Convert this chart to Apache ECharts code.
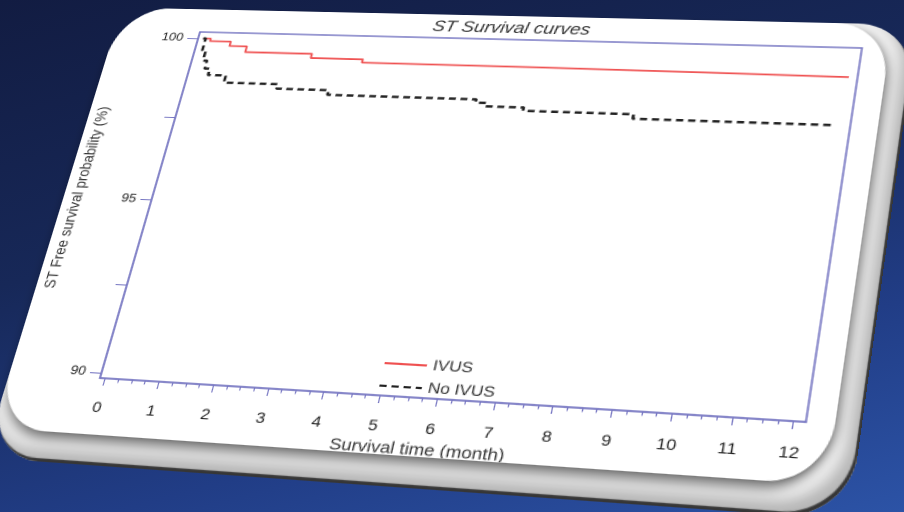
<!DOCTYPE html>
<html>
<head>
<meta charset="utf-8">
<title>ST Survival curves</title>
<script src="https://cdn.jsdelivr.net/npm/echarts@6/dist/echarts.min.js"></script>
<style>
html, body { margin:0; padding:0; width:904px; height:512px; overflow:hidden; }
body {
  background: linear-gradient(165deg, #121c42 0%, #172858 38%, #213d86 72%, #2c53a6 100%);
  font-family: "Liberation Sans", Arial, sans-serif;
}
#stage { position:absolute; left:0; top:0; width:904px; height:512px; transform-origin:0 0; }
.slab {
  position:absolute; left:14px; top:15px; width:697px; height:461px;
  border-radius:48px / 56px; background:#f2f2f2;
  box-shadow: inset -2px -3px 1px #363636, inset -9px -12px 12px rgba(0,0,0,0.25);
}
.face {
  position:absolute; left:14px; top:15px; width:677px; height:433px;
  border-radius:46px / 55px; background:#fff;
  box-shadow: 0 10px 12px -4px rgba(0,0,0,0.55), 7px 0 9px -5px rgba(0,0,0,0.4);
}
#chart { position:absolute; left:14px; top:15px; width:677px; height:433px; }
</style>
</head>
<body>
<div id="stage">
  <div class="slab"></div>
  <div class="face"></div>
  <div id="chart"></div>
</div>
<script>
// Kaplan-Meier steps (month, % free of ST)
var ivusTime   = [0, 0.15, 0.56, 0.9, 2.2, 3.2, 6.5, 9.5, 12.05];
var ivusSurv   = [100, 99.92, 99.78, 99.6, 99.47, 99.37, 99.35, 99.33, 99.33];
var noIvusTime = [0, 0.05, 0.12, 0.2, 0.3, 0.65, 1.7, 2.7, 5.5, 5.7, 6.4, 8.4, 11.9];
var noIvusSurv = [100, 99.6, 99.3, 99.05, 98.85, 98.63, 98.49, 98.35, 98.25, 98.15, 98.05, 97.92, 97.9];

var monthTicks   = [0, 1, 2, 3, 4, 5, 6, 7, 8, 9, 10, 11, 12];
var yTickValues  = [90, 92.5, 95, 97.5, 100];
var yLabelValues = [90, 95, 100];

// weekly minor ticks between the month ticks
var weekTicks = [];
for (var m = 0; m < 12; m++) {
  for (var q = 1; q < 4; q++) weekTicks.push(m + q / 4);
}

// layout: plot box inside #chart, and where its corners land on the slide (photo is tilted)
var chartLeft = 14, chartTop = 15;
var gridLeft = 80, gridTop = 25, gridW = 575, gridH = 355;
var plotQuad = [[200, 32], [862, 48], [806, 422], [100, 378]];

function pairs(t, v) {
  return t.map(function (x, i) { return [x, v[i]]; });
}

var chart = echarts.init(document.getElementById('chart'), null, { devicePixelRatio: 2 });

var axisBlue = '#7676c2';
var xMin = -0.1, xMax = 12.2;

chart.setOption({
  animation: false,
  textStyle: { fontFamily: 'Liberation Sans, Arial, sans-serif' },
  title: {
    text: 'ST Survival curves',
    left: 284,
    top: 0,
    textStyle: { fontSize: 16.5, fontStyle: 'italic', fontWeight: 'normal', color: '#333' }
  },
  grid: {
    left: gridLeft, top: gridTop, width: gridW, height: gridH,
    outerBoundsMode: 'none',
    show: true, borderColor: axisBlue, borderWidth: 1.5
  },
  legend: {
    orient: 'vertical',
    left: 310, top: 338,
    itemWidth: 35, itemHeight: 12, itemGap: 7,
    itemStyle: { opacity: 0 },
    textStyle: { fontSize: 14, color: '#333' },
    data: ['IVUS', 'No IVUS']
  },
  xAxis: [
    {
      type: 'value',
      min: xMin, max: xMax,
      name: 'Survival time (month)',
      nameLocation: 'middle', nameGap: 40,
      nameTextStyle: { fontSize: 15, color: '#333', padding: [0, 20, 0, 0] },
      axisLine: { onZero: false, lineStyle: { color: axisBlue, width: 1.5 } },
      axisTick: { length: 7, customValues: monthTicks, lineStyle: { color: axisBlue } },
      axisLabel: { fontSize: 14, color: '#222', margin: 21, customValues: monthTicks },
      splitLine: { show: false }
    },
    {
      type: 'value',
      position: 'bottom',
      min: xMin, max: xMax,
      axisLine: { show: false },
      axisTick: { length: 3.5, customValues: weekTicks, lineStyle: { color: axisBlue } },
      axisLabel: { show: false },
      splitLine: { show: false }
    }
  ],
  yAxis: {
    type: 'value',
    min: 89.85, max: 100.2,
    name: 'ST Free survival probability (%)',
    nameLocation: 'middle', nameGap: 60,
    nameTextStyle: { fontSize: 13.5, color: '#333' },
    axisLine: { onZero: false, lineStyle: { color: axisBlue, width: 1.5 } },
    axisTick: { length: 10, customValues: yTickValues, lineStyle: { color: axisBlue } },
    axisLabel: { fontSize: 12, color: '#222', margin: 14, customValues: yLabelValues },
    splitLine: { show: false }
  },
  series: [
    {
      name: 'IVUS', type: 'line', step: 'end', symbol: 'none',
      lineStyle: { color: '#ef5151', width: 1.8 },
      itemStyle: { color: '#ef5151' },
      data: pairs(ivusTime, ivusSurv)
    },
    {
      name: 'No IVUS', type: 'line', step: 'end', symbol: 'none',
      lineStyle: { color: '#222', width: 2.5, type: [6, 4] },
      itemStyle: { color: '#222' },
      data: pairs(noIvusTime, noIvusSurv)
    }
  ]
});

// tilt the whole card so the plot box sits on the photographed quad
function solve(A, b) {
  var n = b.length, i, r, c;
  for (i = 0; i < n; i++) {
    var p = i;
    for (r = i + 1; r < n; r++) if (Math.abs(A[r][i]) > Math.abs(A[p][i])) p = r;
    var t = A[i]; A[i] = A[p]; A[p] = t;
    var tb = b[i]; b[i] = b[p]; b[p] = tb;
    for (r = i + 1; r < n; r++) {
      var f = A[r][i] / A[i][i];
      for (c = i; c < n; c++) A[r][c] -= f * A[i][c];
      b[r] -= f * b[i];
    }
  }
  var x = new Array(n);
  for (i = n - 1; i >= 0; i--) {
    var s = b[i];
    for (c = i + 1; c < n; c++) s -= A[i][c] * x[c];
    x[i] = s / A[i][i];
  }
  return x;
}

function tilt() {
  var x0 = chartLeft + gridLeft, y0 = chartTop + gridTop;
  var src = [[x0, y0], [x0 + gridW, y0], [x0 + gridW, y0 + gridH], [x0, y0 + gridH]];
  var A = [], b = [];
  for (var i = 0; i < 4; i++) {
    var x = src[i][0], y = src[i][1], X = plotQuad[i][0], Y = plotQuad[i][1];
    A.push([x, y, 1, 0, 0, 0, -x * X, -y * X]); b.push(X);
    A.push([0, 0, 0, x, y, 1, -x * Y, -y * Y]); b.push(Y);
  }
  var h = solve(A, b);
  document.getElementById('stage').style.transform =
    'matrix3d(' + [h[0], h[3], 0, h[6], h[1], h[4], 0, h[7], 0, 0, 1, 0, h[2], h[5], 0, 1].join(',') + ')';
}
tilt();
</script>
</body>
</html>
